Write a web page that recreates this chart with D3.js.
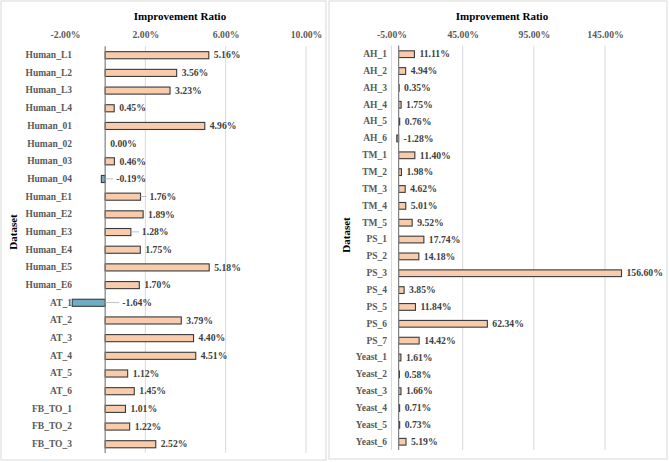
<!DOCTYPE html>
<html><head><meta charset="utf-8">
<script src="https://cdn.jsdelivr.net/npm/d3@7"></script>
<style>body{margin:0;background:#fff}svg{display:block}text{font-family:"Liberation Serif","Times New Roman",serif;font-weight:bold}</style>
</head><body>
<script>
const leftCategories = ["Human_L1","Human_L2","Human_L3","Human_L4","Human_01","Human_02","Human_03","Human_04","Human_E1","Human_E2","Human_E3","Human_E4","Human_E5","Human_E6","AT_1","AT_2","AT_3","AT_4","AT_5","AT_6","FB_TO_1","FB_TO_2","FB_TO_3"];
const leftValues = [5.16,3.56,3.23,0.45,4.96,0.00,0.46,-0.19,1.76,1.89,1.28,1.75,5.18,1.70,-1.64,3.79,4.40,4.51,1.12,1.45,1.01,1.22,2.52];
const leftTicks = [-2,2,6,10];
const rightCategories = ["AH_1","AH_2","AH_3","AH_4","AH_5","AH_6","TM_1","TM_2","TM_3","TM_4","TM_5","PS_1","PS_2","PS_3","PS_4","PS_5","PS_6","PS_7","Yeast_1","Yeast_2","Yeast_3","Yeast_4","Yeast_5","Yeast_6"];
const rightValues = [11.11,4.94,0.35,1.75,0.76,-1.28,11.40,1.98,4.62,5.01,9.52,17.74,14.18,156.60,3.85,11.84,62.34,14.42,1.61,0.58,1.66,0.71,0.73,5.19];
const rightTicks = [-5,45,95,145];
const axisTitle = "Improvement Ratio";
const catTitle = "Dataset";

const W = 669, H = 462;
const svg = d3.select("body").append("svg").attr("width", W).attr("height", H);
const fmt = v => (v < 0 ? "-" : "") + Math.abs(v).toFixed(2) + "%";

function panel(cfg) {
  const g = svg.append("g");
  g.append("rect").attr("x", cfg.box[0]).attr("y", cfg.box[1]).attr("width", cfg.box[2]).attr("height", cfg.box[3])
    .attr("fill", "#fff").attr("stroke", "#d9d9d9").attr("stroke-width", 1);
  const x = d3.scaleLinear().domain(cfg.domain).range(cfg.xr);
  const y = d3.scaleBand().domain(cfg.cats).range(cfg.yr).padding(0);
  const step = y.step();
  g.selectAll(".grid").data(cfg.grid).enter().append("line")
    .attr("x1", d => x(d)).attr("x2", d => x(d)).attr("y1", cfg.yr[0]).attr("y2", cfg.yr[1])
    .attr("stroke", "#d9d9d9").attr("stroke-width", 1);
  const ax = g.append("g").attr("transform", `translate(0,${cfg.tickY})`)
    .call(d3.axisTop(x).tickValues(cfg.ticks).tickSize(0).tickFormat(fmt));
  ax.select(".domain").remove();
  ax.selectAll("text").attr("font-size", "9.7px").attr("fill", "#595959").style("font-family", "Liberation Serif").style("font-weight", "bold").attr("dy", "0.32em").attr("y", 0);
  g.append("text").attr("x", cfg.titleX).attr("y", 20).attr("text-anchor", "middle")
    .attr("font-size", "11px").attr("fill", "#000").text(axisTitle);
  g.append("text").attr("transform", `translate(${cfg.dsX},${cfg.dsY}) rotate(-90)`).attr("text-anchor", "middle")
    .attr("dy", "0.35em").attr("font-size", "11px").attr("fill", "#000").text(catTitle);
  const ay = g.append("g").attr("transform", `translate(${cfg.catX},0)`)
    .call(d3.axisLeft(y).tickSize(0).tickPadding(0));
  ay.select(".domain").remove();
  ay.selectAll("text").attr("font-size", "9.5px").attr("fill", "#595959").style("font-family", "Liberation Serif").style("font-weight", "bold");
  const data = cfg.cats.map((c, i) => ({c, v: cfg.vals[i]}));
  g.selectAll(".bar").data(data).enter().append("rect")
    .attr("x", d => x(Math.min(0, d.v))).attr("width", d => Math.abs(x(d.v) - x(0)))
    .attr("y", d => y(d.c) + step * 0.31).attr("height", step * 0.4)
    .attr("fill", d => d.v < 0 ? "#71adc2" : "#f8cbad")
    .attr("stroke", d => d.v === 0 ? "none" : "#3a3a3a").attr("stroke-width", 1.1);
  g.append("line").attr("x1", x(0)).attr("x2", x(0)).attr("y1", cfg.yr[0]).attr("y2", cfg.yr[1])
    .attr("stroke", "#7f7f7f").attr("stroke-width", 1.2);
  data.forEach(d => {
    const base = x(Math.max(0, d.v));
    const nudge = (cfg.nudge && cfg.nudge[d.c]) || 0;
    const lx = base + 5 + nudge;
    const cy = y(d.c) + step / 2;
    if (nudge) {
      g.append("line").attr("x1", base).attr("x2", lx - 3).attr("y1", cy).attr("y2", cy)
        .attr("stroke", "#bfbfbf").attr("stroke-width", 1);
    }
    g.append("text").attr("x", lx).attr("y", cy).attr("dy", "0.35em")
      .attr("font-size", "9.7px").attr("fill", "#404040").text(fmt(d.v));
  });
}

panel({
  box: [1, 1, 325, 459], domain: [-2, 10], xr: [65, 306], yr: [46.2, 452.9],
  cats: leftCategories, vals: leftValues, ticks: leftTicks, grid: [2, 6, 10],
  tickY: 35, titleX: 180, dsX: 13, dsY: 232, catX: 72,
  nudge: {"Human_04": 6, "Human_E1": 4, "Human_E3": 6, "AT_1": 12}
});
panel({
  box: [329, 1, 338, 458], domain: [-5, 145], xr: [391.5, 605], yr: [45.6, 450],
  cats: rightCategories, vals: rightValues, ticks: rightTicks, grid: [-5, 45, 95, 145],
  tickY: 35, titleX: 502, dsX: 346, dsY: 235, catX: 387
});
</script>
</body></html>
